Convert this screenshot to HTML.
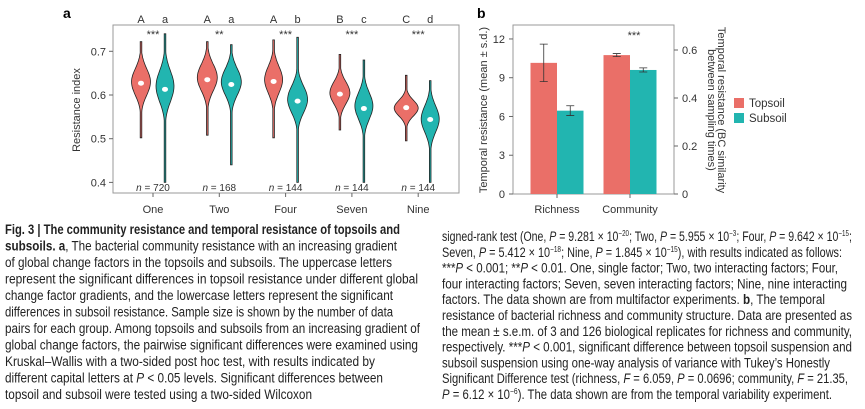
<!DOCTYPE html>
<html><head><meta charset="utf-8"><style>
html,body{margin:0;padding:0;background:#fff;}
svg{display:block;font-family:"Liberation Sans",sans-serif;}
</style></head><body>
<svg id="fig" width="865" height="409" viewBox="0 0 865 409" xmlns="http://www.w3.org/2000/svg">
<g id="pa"></g>
<g id="pb"></g>
<g id="cap" font-size="13.5" fill="#222"></g>
</svg>
<script>
// ---- Panel a data ----
const groups = ["One","Two","Four","Seven","Nine"];
const topLetters = ["A","A","A","B","C"];
const subLetters = ["a","a","b","c","d"];
const sigStars = ["***","**","***","***","***"];
const nLabels = ["720","168","144","144","144"];
const topMin = [0.502,0.508,0.502,0.520,0.495];
const topMax = [0.722,0.722,0.726,0.693,0.645];
const topMedian = [0.627,0.635,0.631,0.602,0.571];
const topMode = [0.630,0.640,0.635,0.605,0.570];
const topSpread = [0.030,0.030,0.030,0.025,0.018];
const topWidth = [9.5,10,9,10,12];
const subMin = [0.400,0.440,0.400,0.400,0.400];
const subMax = [0.740,0.715,0.732,0.680,0.633];
const subMedian = [0.613,0.624,0.586,0.569,0.544];
const subMode = [0.620,0.630,0.590,0.575,0.545];
const subSpread = [0.035,0.030,0.030,0.030,0.030];
const subWidth = [9,10,10,9,9];
const yTicksA = [0.4,0.5,0.6,0.7];
// ---- Panel b data ----
const bCats = ["Richness","Community"];
const bTop = [10.15,10.75];
const bTopErr = [1.45,0.12];
const bSub = [6.45,9.6];
const bSubErr = [0.38,0.16];
const bStars = ["","***"];
const yTicksL = [0,3,6,9,12];
const yTicksR = [0,0.2,0.4,0.6];

const NS="http://www.w3.org/2000/svg";
function mk(parent,tag,attrs,text){const e=document.createElementNS(NS,tag);for(const k in attrs)e.setAttribute(k,attrs[k]);if(text!==undefined)e.textContent=text;parent.appendChild(e);return e;}
const TOP="#ea6f68", SUB="#22b5b0";

// Panel a
const pa=document.getElementById('pa');
const ay=v=>95-(v-0.6)*437;
const ax=i=>153+i*66.3;
let el;
el=mk(pa,'text',{x:63,y:18,'font-size':14,'font-weight':'bold'},'a');

el=mk(pa,'rect',{x:113,y:25,width:346,height:168,fill:'none',stroke:'#999','stroke-width':1});

yTicksA.forEach(t=>{
 el=mk(pa,'line',{x1:109,x2:113,y1:ay(t),y2:ay(t),stroke:'#666'});
 
 el=mk(pa,'text',{x:106,y:ay(t)+4,'text-anchor':'end','font-size':11,fill:'#333'},t.toFixed(1));
 
});
el=mk(pa,'text',{transform:'translate(80,110) rotate(-90)','text-anchor':'middle','font-size':11,fill:'#333'},'Resistance index');

function violin(cx,mn,mx,mode,sd,w,med,col,name){
 const pts=[];const N=60;
 for(let k=0;k<=N;k++){const v=mx-(mx-mn)*k/N;const z=(v-mode)/sd;const h=Math.max(0.8,w*Math.exp(-z*z/2));pts.push([cx+h,ay(v)]);}
 const left=pts.slice().reverse().map(p=>[2*cx-p[0],p[1]]);
 const d='M'+pts.concat(left).map(p=>p[0].toFixed(1)+','+p[1].toFixed(1)).join('L')+'Z';
 let e=mk(pa,'path',{d:d,fill:col,stroke:'#222','stroke-width':0.8});
 
 e=mk(pa,'ellipse',{cx:cx,cy:ay(med),rx:3,ry:2.5,fill:'#fff'});
 
}
groups.forEach((g,i)=>{
 const c=ax(i);
 violin(c-12,topMin[i],topMax[i],topMode[i],topSpread[i],topWidth[i],topMedian[i],TOP,'violin-topsoil-'+g.toLowerCase());
 violin(c+12,subMin[i],subMax[i],subMode[i],subSpread[i],subWidth[i],subMedian[i],SUB,'violin-subsoil-'+g.toLowerCase());
 el=mk(pa,'text',{x:c-12,y:23,'text-anchor':'middle','font-size':11,fill:'#333'},topLetters[i]);
 
 el=mk(pa,'text',{x:c+12,y:23,'text-anchor':'middle','font-size':11,fill:'#333'},subLetters[i]);
 
 el=mk(pa,'text',{x:c,y:38,'text-anchor':'middle','font-size':11,fill:'#333'},sigStars[i]);
 
 el=mk(pa,'text',{x:c,y:191,'text-anchor':'middle','font-size':10,fill:'#333'});
 
 mk(el,'tspan',{'font-style':'italic'},'n');mk(el,'tspan',{},' = '+nLabels[i]);
 el=mk(pa,'line',{x1:c,x2:c,y1:193,y2:197,stroke:'#666'});
 
 el=mk(pa,'text',{x:c,y:213,'text-anchor':'middle','font-size':11,fill:'#333'},g);
 
});

// Panel b
const pb=document.getElementById('pb');
const yl=v=>194-v*12.92, yr=v=>194-v*240;
const bx=i=>557+i*73;
el=mk(pb,'text',{x:477,y:18,'font-size':14,'font-weight':'bold'},'b');

el=mk(pb,'rect',{x:513,y:25,width:161,height:169,fill:'none',stroke:'#999'});

yTicksL.forEach(t=>{
 el=mk(pb,'line',{x1:509,x2:513,y1:yl(t),y2:yl(t),stroke:'#666'});
 
 el=mk(pb,'text',{x:505,y:yl(t)+4,'text-anchor':'end','font-size':11,fill:'#333'},t);
 
});
yTicksR.forEach(t=>{
 el=mk(pb,'line',{x1:674,x2:678,y1:yr(t),y2:yr(t),stroke:'#666'});
 
 el=mk(pb,'text',{x:682,y:yr(t)+4,'font-size':11,fill:'#333'},t===0?'0':t.toFixed(1));
 
});
el=mk(pb,'text',{transform:'translate(487,110) rotate(-90)','text-anchor':'middle','font-size':11,fill:'#333'},'Temporal resistance (mean \u00b1 s.d.)');

el=mk(pb,'text',{transform:'translate(718,110) rotate(90)','text-anchor':'middle','font-size':11,fill:'#333'},'Temporal resistance (BC similarity');

el=mk(pb,'text',{transform:'translate(708,110) rotate(90)','text-anchor':'middle','font-size':11,fill:'#333'},'between sampling times)');

function bar(x,v,err,col,name){
 let e=mk(pb,'rect',{x:x,y:yl(v),width:26.5,height:yl(0)-yl(v),fill:col});
 
 const c=x+13.25;
 e=mk(pb,'path',{d:`M${c},${yl(v-err)}V${yl(v+err)}M${c-4},${yl(v-err)}H${c+4}M${c-4},${yl(v+err)}H${c+4}`,stroke:'#333','stroke-width':0.8,fill:'none'});
 
}
bCats.forEach((c,i)=>{
 const x=bx(i);
 bar(x-26.5,bTop[i],bTopErr[i],TOP,'bar-topsoil-'+c.toLowerCase());
 bar(x,bSub[i],bSubErr[i],SUB,'bar-subsoil-'+c.toLowerCase());
 el=mk(pb,'line',{x1:x,x2:x,y1:194,y2:198,stroke:'#666'});
 
 el=mk(pb,'text',{x:x,y:213,'text-anchor':'middle','font-size':11,fill:'#333'},c);
 
 if(bStars[i]){el=mk(pb,'text',{x:x+4,y:39,'text-anchor':'middle','font-size':11,fill:'#333'},bStars[i]);
 }
});
[["Topsoil",TOP,98],["Subsoil",SUB,113]].forEach(l=>{
 const g=mk(pb,'g',{});
 
 mk(g,'rect',{x:734,y:l[2],width:10,height:10,fill:l[1]});
 mk(g,'text',{x:749,y:l[2]+9,'font-size':11.5,fill:'#333'},l[0]);
});

// Caption
const cap=document.getElementById('cap');
const left=[
 [[{b:1},"Fig. 3 | The community resistance and temporal resistance of topsoils and"],395],
 [[{b:1},"subsoils. a"],", The bacterial community resistance with an increasing gradient",392],
 ["of global change factors in the topsoils and subsoils. The uppercase letters",387],
 ["represent the significant differences in topsoil resistance under different global",413],
 ["change factor gradients, and the lowercase letters represent the significant",388],
 ["differences in subsoil resistance. Sample size is shown by the number of data",388],
 ["pairs for each group. Among topsoils and subsoils from an increasing gradient of",415],
 ["global change factors, the pairwise significant differences were examined using",413],
 ["Kruskal\u2013Wallis with a two-sided post hoc test, with results indicated by",370],
 ["different capital letters at ",[{i:1},"P"]," < 0.05 levels. Significant differences between",378],
 ["topsoil and subsoil were tested using a two-sided Wilcoxon",307]
];
const right=[
 ["signed-rank test (One, ",[{i:1},"P"]," = 9.281 \u00d7 10",[{s:1},"\u221220"],"; Two, ",[{i:1},"P"]," = 5.955 \u00d7 10",[{s:1},"\u22123"],"; Four, ",[{i:1},"P"]," = 9.642 \u00d7 10",[{s:1},"\u221215"],";",410],
 ["Seven, ",[{i:1},"P"]," = 5.412 \u00d7 10",[{s:1},"\u221218"],"; Nine, ",[{i:1},"P"]," = 1.845 \u00d7 10",[{s:1},"\u221215"],"), with results indicated as follows:",400],
 ["***",[{i:1},"P"]," < 0.001; **",[{i:1},"P"]," < 0.01. One, single factor; Two, two interacting factors; Four,",396],
 ["four interacting factors; Seven, seven interacting factors; Nine, nine interacting",405],
 ["factors. The data shown are from multifactor experiments. ",[{b:1},"b"],", The temporal",383],
 ["resistance of bacterial richness and community structure. Data are presented as",410],
 ["the mean \u00b1 s.e.m. of 3 and 126 biological replicates for richness and community,",410],
 ["respectively. ***",[{i:1},"P"]," < 0.001, significant difference between topsoil suspension and",410],
 ["subsoil suspension using one-way analysis of variance with Tukey\u2019s Honestly",388],
 ["Significant Difference test (richness, ",[{i:1},"F"]," = 6.059, ",[{i:1},"P"]," = 0.0696; community, ",[{i:1},"F"]," = 21.35,",406],
 [[{i:1},"P"]," = 6.12 \u00d7 10",[{s:1},"\u22126"],"). The data shown are from the temporal variability experiment.",390]
];
function line(x,y,parts,name){
 const w=parts[parts.length-1];
 const t=mk(cap,'text',{x:x,y:y,textLength:w,lengthAdjust:'spacingAndGlyphs'});
 
 parts.slice(0,-1).forEach(p=>{
  if(typeof p==='string'){mk(t,'tspan',{},p);}
  else{const o=p[0];const a={};if(o.b)a['font-weight']='bold';if(o.i)a['font-style']='italic';if(o.s){a['font-size']='8';a['dy']='-5';}
   mk(t,'tspan',a,p[1]);if(o.s){mk(t,'tspan',{dy:'5','font-size':'1'},'\u200a');}}
 });
}
left.forEach((p,i)=>line(5,234+i*16.5,p,'caption-line'));
right.forEach((p,i)=>line(442,241+i*15.8,p,'caption-line'));
</script>
</body></html>
